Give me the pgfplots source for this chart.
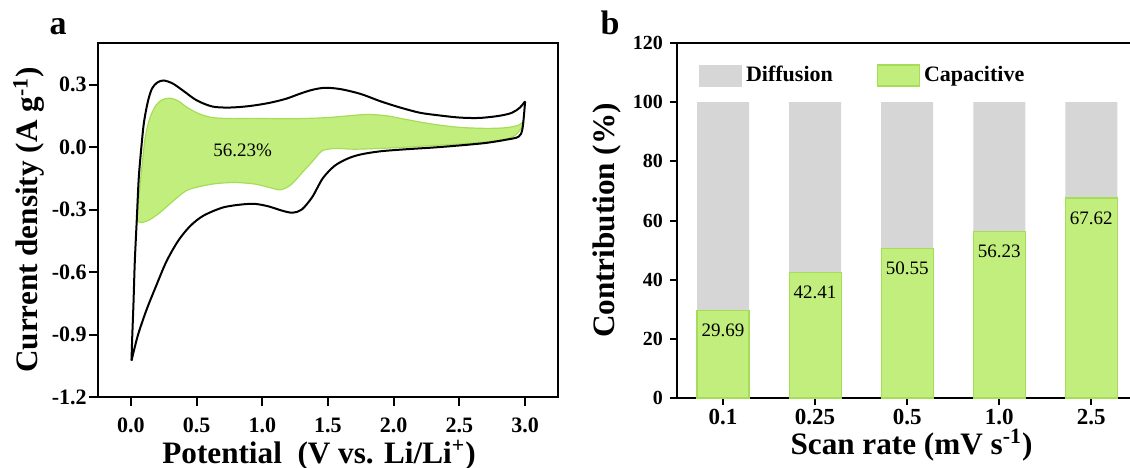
\documentclass[border=0pt]{standalone}
\usepackage{pgfplots}
\pgfplotsset{compat=1.18}
\usepackage{fontspec}
\setmainfont{Liberation Serif}

\definecolor{capgreen}{HTML}{C2EE7E}
\definecolor{capedge}{HTML}{A6DD58}
\definecolor{diffgray}{HTML}{D6D6D6}

\pgfplotsset{
  panel/.style={
    scale only axis,
    tick align=outside,
    xtick pos=left, ytick pos=left,
    axis line style={line width=1pt},
    every tick/.style={black, line width=1pt},
    /pgf/number format/assume math mode=true,
    tick label style={font=\bfseries\fontsize{11}{13}\selectfont},
    label style={font=\bfseries\fontsize{15.6}{18}\selectfont},
  },
}

\begin{document}
\begin{tikzpicture}[x=1pt,y=1pt]
\path[use as bounding box] (0,0) rectangle (565,233.5);

% ---- a: CV curve with capacitive part ----
\begin{axis}[panel,
  at={(49pt,35pt)}, anchor=south west,
  width=230pt, height=177pt,
  xmin=-0.25, xmax=3.25, ymin=-1.2, ymax=0.5,
  major tick length=4.5pt,
  xtick={0,0.5,...,3}, xticklabels={0.0,0.5,1.0,1.5,2.0,2.5,3.0},
  xticklabel style={yshift=-2.5pt},
  ytick={-1.2,-0.9,-0.6,-0.3,0,0.3},
  yticklabels={-1.2,-0.9,-0.6,-0.3,0.0,0.3},
  yticklabel style={inner sep=1pt},
  xlabel={Potential\ \ (V vs. Li/Li\textsuperscript{+})},
  ylabel={Current density (A g\textsuperscript{-1})},
  xlabel style={at={(axis description cs:0.5,0)}, anchor=center, yshift=-29pt, xshift=-4.5pt},
  ylabel style={at={(axis description cs:0,0.5)}, anchor=center, yshift=34.5pt},
]
% capacitive region
\addplot[fill=capgreen, draw=capedge, line width=0.6pt, smooth, tension=0.5] coordinates {
(0.045,-0.355)(0.06,-0.25)(0.085,-0.09)(0.11,0.05)(0.145,0.14)(0.19,0.20)
(0.24,0.228)(0.30,0.235)(0.36,0.222)(0.43,0.19)(0.52,0.16)(0.62,0.142)
(0.75,0.137)(0.90,0.138)(1.05,0.137)(1.20,0.136)(1.35,0.138)(1.50,0.142)
(1.65,0.150)(1.80,0.157)(1.95,0.150)(2.10,0.132)(2.30,0.110)(2.50,0.095)
(2.70,0.090)(2.85,0.093)(2.95,0.105)(2.99,0.123)
(2.97,0.09)(2.92,0.055)(2.85,0.038)(2.70,0.025)(2.50,0.015)(2.30,0.008)
(2.10,0.0)(1.90,-0.006)(1.70,-0.01)(1.57,-0.006)(1.50,-0.01)(1.45,-0.02)
(1.38,-0.07)(1.30,-0.125)(1.22,-0.18)(1.14,-0.205)(1.06,-0.195)(0.95,-0.178)
(0.80,-0.17)(0.65,-0.175)(0.52,-0.19)(0.42,-0.21)(0.32,-0.26)(0.22,-0.315)
(0.14,-0.35)(0.08,-0.362)(0.045,-0.355)
} -- cycle;
% CV loop, lower branch
\addplot[black, line width=1pt, smooth, tension=0.5] coordinates {
(0.005,-1.025)(0.03,-0.96)(0.06,-0.89)(0.12,-0.78)(0.19,-0.67)(0.27,-0.55)
(0.36,-0.45)(0.45,-0.38)(0.55,-0.33)(0.70,-0.29)(0.85,-0.275)(0.95,-0.273)
(1.05,-0.285)(1.15,-0.305)(1.23,-0.315)(1.30,-0.30)(1.38,-0.24)(1.46,-0.15)
(1.55,-0.09)(1.65,-0.055)(1.75,-0.035)(1.90,-0.02)(2.10,-0.01)(2.30,-0.002)
(2.50,0.008)(2.70,0.02)(2.85,0.035)(2.95,0.05)(2.98,0.09)(3.00,0.22)
};
% CV loop, upper branch
\addplot[black, line width=1pt, smooth, tension=0.5] coordinates {
(3.00,0.22)(2.96,0.19)(2.90,0.165)(2.80,0.15)(2.65,0.14)(2.50,0.142)
(2.35,0.152)(2.20,0.165)(2.05,0.19)(1.90,0.22)(1.75,0.255)(1.60,0.278)
(1.48,0.285)(1.38,0.275)(1.28,0.255)(1.18,0.232)(1.05,0.212)(0.90,0.197)
(0.75,0.19)(0.62,0.195)(0.50,0.225)(0.40,0.27)(0.32,0.305)(0.25,0.32)
(0.20,0.31)(0.16,0.28)(0.13,0.22)(0.10,0.12)(0.08,0.0)(0.06,-0.15)
(0.045,-0.35)(0.03,-0.55)(0.02,-0.75)(0.01,-0.92)(0.005,-1.025)
};
\node[font=\fontsize{9.5}{11}\selectfont] at (axis cs:0.85,-0.015) {56.23\%};
\end{axis}

% ---- b: contribution bars ----
\begin{axis}[panel,
  at={(338.5pt,34.5pt)}, anchor=south west,
  width=226.5pt, height=177.5pt,
  axis x line*=box, axis y line*=left,
  xmin=-0.5, xmax=4.42, ymin=0, ymax=120,
  major tick length=3.5pt,
  xtick={0,1,2,3,4}, xticklabels={0.1,0.25,0.5,1.0,2.5},
  xticklabel style={font=\bfseries\fontsize{11.5}{13}\selectfont, inner sep=2pt},
  yticklabel style={font=\bfseries\fontsize{10}{12}\selectfont},
  ytick={0,20,...,120},
  ybar, bar shift=0pt, bar width=0.565,
  xlabel={Scan rate (mV s\textsuperscript{-1})},
  ylabel={Contribution (\%)},
  xlabel style={at={(axis description cs:0.5,0)}, anchor=center, yshift=-23.5pt, xshift=4pt},
  ylabel style={at={(axis description cs:0,0.5)}, anchor=center, yshift=35pt},
  legend columns=2,
  legend style={at={(0.035,0.958)}, anchor=north west, draw=none, fill=none,
    font=\bfseries\fontsize{11}{13}\selectfont,
    /tikz/every even column/.append style={column sep=20pt},
    cells={anchor=west}},
  legend image code/.code={\path[#1] (0pt,-5.25pt) rectangle (21pt,5.25pt);},
]
\addlegendimage{fill=diffgray, draw=diffgray}
\addlegendentry{Diffusion}
\addlegendimage{fill=capgreen, draw=capedge, line width=0.6pt}
\addlegendentry{Capacitive}

% total (diffusion + capacitive) = 100 %
\addplot[fill=diffgray, draw=none, forget plot]
  coordinates {(0,100) (1,100) (2,100) (3,100) (4,100)};
% capacitive share
\addplot[fill=capgreen, draw=capedge, line width=0.6pt, forget plot,
  nodes near coords, point meta=explicit symbolic,
  every node near coord/.append style={anchor=north, yshift=-6.5pt, inner sep=0pt,
    text=black, font=\fontsize{9.5}{11}\selectfont}]
  coordinates {(0,29.69)[29.69] (1,42.41)[42.41] (2,50.55)[50.55] (3,56.23)[56.23] (4,67.62)[67.62]};
\end{axis}

\node[anchor=base, font=\bfseries\fontsize{17}{19}\selectfont] at (29,216) {a};
\node[anchor=base, font=\bfseries\fontsize{17}{19}\selectfont] at (305,216) {b};
\end{tikzpicture}
\end{document}
